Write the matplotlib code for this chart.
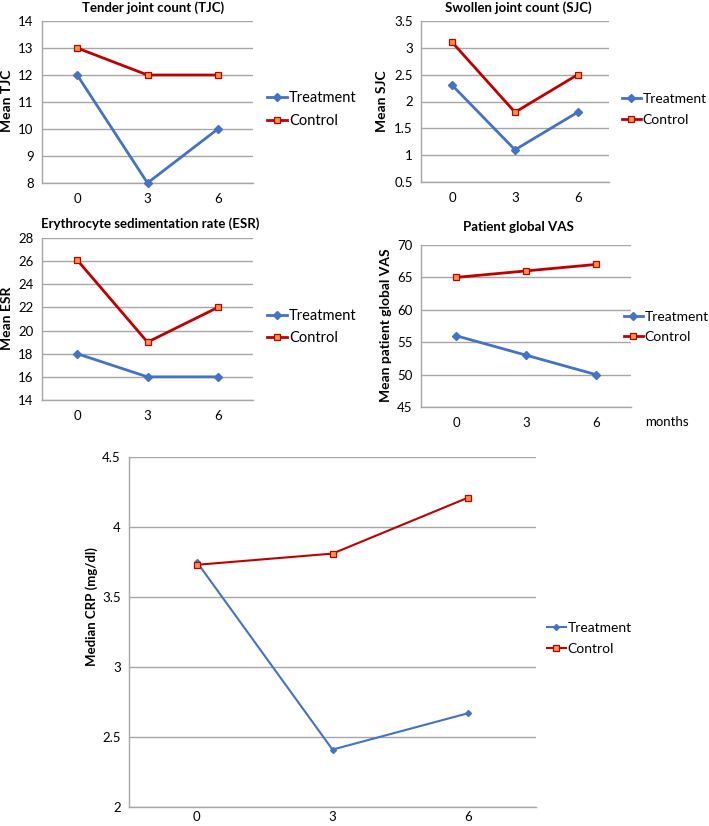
import matplotlib
matplotlib.use("Agg")
import matplotlib.pyplot as plt

# ── Data ───────────────────────────────────────────────────────────────────

MONTHS = [0, 3, 6]
MONTH_LABELS = ["0", "3", "6"]

TJC_TREAT = [12, 8, 10]
TJC_CTRL = [13, 12, 12]

SJC_TREAT = [2.3, 1.1, 1.8]
SJC_CTRL = [3.1, 1.8, 2.5]

ESR_TREAT = [18, 16, 16]
ESR_CTRL = [26.1, 19, 22]

VAS_TREAT = [56, 53, 50]
VAS_CTRL = [65, 66, 67]

CRP_TREAT = [3.75, 2.41, 2.67]
CRP_CTRL = [3.73, 3.81, 4.21]

# ── Style ──────────────────────────────────────────────────────────────────

W, H = 709, 826
BLUE = "#4472C4"
RED = "#C00000"
ORANGE = "#F79646"
GRID = "#A6A6A6"
FONT = ["Lato", "DejaVu Sans"]

plt.rcParams["font.family"] = FONT


def rect(l, t, r, b):
    return [l / W, 1 - b / H, (r - l) / W, (b - t) / H]


def fx(x):
    return x / W


def fy(y):
    return 1 - y / H


def panel(fig, box, treat, ctrl, ylim, yticks, legend_xy,
          lw=2.0, ms_d=4.0, ms_s=5.0, tick_fs=9.5, leg_fs=10.5, xpad=7):
    ax = fig.add_axes(rect(*box))
    ax.plot(MONTHS, treat, color=BLUE, lw=lw, marker="D", ms=ms_d,
            mfc=BLUE, mec=BLUE, label="Treatment", zorder=3, clip_on=False)
    ax.plot(MONTHS, ctrl, color=RED, lw=lw, marker="s", ms=ms_s,
            mfc=ORANGE, mec=RED, mew=0.9, label="Control", zorder=4,
            clip_on=False)
    ax.set_xlim(-1.5, 7.5)
    ax.set_ylim(*ylim)
    ax.set_yticks(yticks)
    ax.set_yticklabels([f"{v:g}" for v in yticks])
    ax.set_xticks(MONTHS)
    ax.set_xticklabels(MONTH_LABELS)
    ax.yaxis.grid(True, color=GRID, lw=1.0, zorder=0)
    ax.set_axisbelow(True)
    for s in ("top", "right"):
        ax.spines[s].set_visible(False)
    for s in ("left", "bottom"):
        ax.spines[s].set_color(GRID)
        ax.spines[s].set_linewidth(1.0)
    ax.tick_params(axis="both", length=0, labelsize=tick_fs, pad=6,
                   colors="black")
    ax.tick_params(axis="x", pad=xpad)
    ax.legend(loc="center left", bbox_to_anchor=(fx(legend_xy[0]), fy(legend_xy[1])),
              bbox_transform=fig.transFigure, frameon=False, fontsize=leg_fs,
              handlelength=1.35, handletextpad=0.15, borderpad=0,
              borderaxespad=0, labelspacing=0.6)
    return ax


fig = plt.figure(figsize=(W / 100, H / 100), dpi=100)

# Tender joint count
panel(fig, (42, 21, 253, 183), TJC_TREAT, TJC_CTRL, (8, 14),
      [8, 9, 10, 11, 12, 13, 14], (267, 109.5))
fig.text(fx(153), fy(8), "Tender joint count (TJC)", ha="center", va="center",
         fontsize=9.5, fontweight="bold")
fig.text(fx(7), fy(101), "Mean TJC", rotation=90, ha="center", va="center",
         fontsize=10, fontweight="bold")

# Swollen joint count
panel(fig, (421, 21, 609, 182), SJC_TREAT, SJC_CTRL, (0.5, 3.5),
      [0.5, 1, 1.5, 2, 2.5, 3, 3.5], (622, 109.5), leg_fs=10)
fig.text(fx(518), fy(8), "Swollen joint count (SJC)", ha="center", va="center",
         fontsize=9.5, fontweight="bold")
fig.text(fx(382), fy(101), "Mean SJC", rotation=90, ha="center", va="center",
         fontsize=10, fontweight="bold")

# Erythrocyte sedimentation rate
panel(fig, (42, 238, 253, 400), ESR_TREAT, ESR_CTRL, (14, 28),
      [14, 16, 18, 20, 22, 24, 26, 28], (267, 327))
fig.text(fx(41), fy(224), "Erythrocyte sedimentation rate (ESR)", ha="left",
         va="center", fontsize=9.5, fontweight="bold")
fig.text(fx(7), fy(318), "Mean ESR", rotation=90, ha="center", va="center",
         fontsize=10, fontweight="bold")

# Patient global VAS
panel(fig, (421, 245, 631, 407), VAS_TREAT, VAS_CTRL, (45, 70),
      [45, 50, 55, 60, 65, 70], (624, 327), leg_fs=10)
fig.text(fx(518), fy(227), "Patient global VAS", ha="center", va="center",
         fontsize=9.5, fontweight="bold")
fig.text(fx(386), fy(325), "Mean patient global VAS", rotation=90, ha="center",
         va="center", fontsize=10, fontweight="bold")
fig.text(fx(645), fy(422), "months", ha="left", va="center", fontsize=9.5)

# CRP
panel(fig, (129, 457, 536, 807), CRP_TREAT, CRP_CTRL, (2, 4.5),
      [2, 2.5, 3, 3.5, 4, 4.5], (547, 638.5),
      lw=1.5, ms_d=3, ms_s=4, tick_fs=9.5, leg_fs=10, xpad=3)
fig.text(fx(92), fy(607), "Median CRP (mg/dl)", rotation=90, ha="center",
         va="center", fontsize=9.5, fontweight="bold")

fig.savefig("out.png", dpi=100)
